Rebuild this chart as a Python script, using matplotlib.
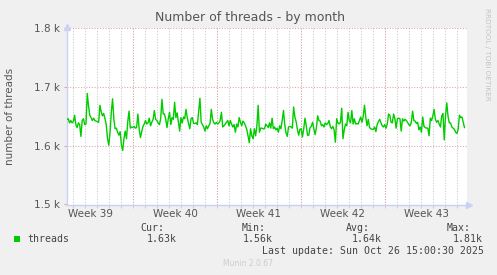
import matplotlib
matplotlib.use('Agg')
import matplotlib.pyplot as plt
import matplotlib.dates as mdates
from matplotlib.patches import Rectangle
import pandas as pd

threads = [
    1645, 1646, 1639, 1643, 1639, 1641, 1652, 1636, 1631, 1639, 1636, 1616, 1643, 1646, 1636, 1637,
    1689, 1668, 1652, 1648, 1643, 1647, 1643, 1642, 1641, 1640, 1669, 1658, 1651, 1655, 1646, 1636,
    1612, 1601, 1623, 1657, 1680, 1646, 1629, 1630, 1623, 1618, 1624, 1601, 1592, 1612, 1625, 1612,
    1641, 1659, 1630, 1632, 1631, 1633, 1630, 1631, 1654, 1629, 1614, 1624, 1633, 1637, 1643, 1637,
    1639, 1647, 1634, 1640, 1645, 1660, 1645, 1643, 1639, 1636, 1646, 1679, 1654, 1654, 1645, 1631,
    1646,
    1657, 1636, 1648, 1645, 1674, 1648, 1656, 1641, 1625, 1648, 1639, 1649, 1646, 1662, 1648, 1638,
    1629, 1646, 1648, 1638, 1638, 1639, 1636, 1659, 1681, 1640, 1636, 1632, 1625, 1634, 1629, 1634,
    1638, 1662, 1645, 1639, 1637, 1640, 1637, 1639, 1643, 1657, 1632, 1634, 1637, 1640, 1643, 1634,
    1643, 1637, 1632, 1636, 1623, 1637, 1632, 1648, 1640, 1634, 1642, 1639, 1634, 1628, 1617, 1605,
    1629, 1617, 1612, 1629, 1617, 1634, 1669, 1623, 1630, 1630, 1629, 1629, 1637, 1634, 1631,
    1639, 1630, 1647, 1629, 1632, 1627, 1630, 1623, 1634, 1629, 1643, 1660, 1636, 1622, 1616, 1632,
    1633, 1632, 1630, 1666, 1649, 1641, 1628, 1618, 1628, 1629, 1615, 1629, 1647, 1634, 1618, 1618,
    1631, 1633, 1640, 1629, 1619, 1630, 1651, 1643, 1642, 1634, 1636, 1632, 1639, 1636, 1638, 1643,
    1632, 1629, 1633, 1627, 1606, 1646, 1639, 1637, 1640, 1664, 1612, 1627, 1637, 1634, 1657, 1643,
    1639, 1660, 1637, 1646, 1637, 1638, 1637, 1643, 1649, 1640, 1650, 1669, 1649, 1634,
    1645, 1631, 1629, 1628, 1628, 1632, 1624, 1636, 1641, 1645, 1639, 1634, 1632, 1636, 1630, 1637,
    1654, 1652, 1640, 1639, 1654, 1646, 1630, 1646, 1647, 1646, 1625, 1646, 1642, 1645, 1643, 1640,
    1636, 1634, 1640, 1659, 1643, 1642, 1638, 1640, 1627, 1632, 1623, 1649, 1633, 1631, 1630, 1630,
    1617, 1647, 1643, 1651, 1662, 1645, 1640, 1643, 1637, 1632, 1651, 1655, 1610, 1651, 1673, 1650,
    1639, 1639, 1632, 1630, 1628, 1623, 1621, 1628, 1652, 1648, 1649, 1640, 1631,
]
start = '2025-09-23 12:00'
end = '2025-10-26 15:00'
view_end = '2025-10-26 20:00'
week_starts = ['2025-09-29', '2025-10-06', '2025-10-13', '2025-10-20']
week_mids = ['2025-09-25 12:00', '2025-10-02 12:00', '2025-10-09 12:00',
             '2025-10-16 12:00', '2025-10-23 12:00']
week_labels = ['Week 39', 'Week 40', 'Week 41', 'Week 42', 'Week 43']
yticks = [1500, 1600, 1700, 1800]
ylabels = ['1.5 k', '1.6 k', '1.7 k', '1.8 k']
stats = {'Cur:': '1.63k', 'Min:': '1.56k', 'Avg:': '1.64k', 'Max:': '1.81k'}

W, H = 497, 275
txt = '#555555'
axis_col = '#ccd0f4'
red_grid = '#e0a4a4'
gray_grid = '#c8c8c8'
dots = (0, (1, 1.6))

fig = plt.figure(figsize=(W / 100, H / 100), dpi=100, facecolor='#f0f0f0')
ax = fig.add_axes([67 / W, 1 - 204.5 / H, 400 / W, 176.2 / H])
ax.set_facecolor('white')

times = pd.date_range(start, end, periods=len(threads))
ax.set_xlim(pd.Timestamp(start), pd.Timestamp(view_end))
ax.set_ylim(1500, 1800)

# grid: daily gray dots, weekly red dots
days = pd.date_range('2025-09-24', view_end, freq='D')
for d in days:
    ax.axvline(d, color=gray_grid, lw=0.75, ls=dots, zorder=1)
for d in week_starts:
    ax.axvline(pd.Timestamp(d), color=red_grid, lw=0.75, ls=dots, zorder=1)
for y in yticks[1:]:
    ax.axhline(y, color=red_grid, lw=0.75, ls=dots, zorder=1, clip_on=False)

ax.plot(times, threads, color='#00cc00', lw=1, zorder=3)

ax.set_yticks(yticks)
ax.set_yticklabels(ylabels)
ax.set_xticks([pd.Timestamp(t) for t in week_mids])
ax.set_xticklabels(week_labels)
ax.tick_params(axis='y', length=2, color=red_grid, pad=3, labelsize=7.5, labelcolor=txt)
ax.tick_params(axis='x', length=0, pad=3, labelsize=7.5, labelcolor=txt)
ax.xaxis.set_minor_locator(mdates.DayLocator())
ax.tick_params(axis='x', which='minor', length=2, color=gray_grid)

for s in ['top', 'right']:
    ax.spines[s].set_visible(False)
for s in ['left', 'bottom']:
    ax.spines[s].set_color(axis_col)
    ax.spines[s].set_linewidth(1)
ax.plot([0], [1.01], marker='^', color=axis_col, ms=4, transform=ax.transAxes, clip_on=False)
ax.plot([1.005], [0], marker='>', color=axis_col, ms=4, transform=ax.transAxes, clip_on=False)

fig.text(250 / W, 1 - 17 / H, 'Number of threads - by month', ha='center', va='center',
         fontsize=9, color=txt)
fig.text(10 / W, 1 - 116 / H, 'number of threads', rotation=90, ha='center', va='center',
         fontsize=7.5, color=txt)
fig.text(487 / W, 1 - 54 / H, 'RRDTOOL / TOBI OETIKER', rotation=270, ha='center', va='center',
         fontsize=5.2, color='#c4c4c4')
fig.text(248 / W, 1 - 264 / H, 'Munin 2.0.67', ha='center', va='center',
         fontsize=5.5, color='#cccccc')

# legend block
mono = dict(family='DejaVu Sans Mono', fontsize=7.1, color='#444444', va='center')
fig.add_artist(Rectangle((14 / W, 1 - 242 / H), 6 / W, 6 / H, transform=fig.transFigure,
                         color='#00cc00', lw=0))
fig.text(27 / W, 1 - 239 / H, 'threads', **mono)
head_x = [140, 242, 346, 447]
val_x = [147, 243, 352, 453]
for (k, v), hx, vx in zip(stats.items(), head_x, val_x):
    fig.text(hx / W, 1 - 228 / H, k, **mono)
    fig.text(vx / W, 1 - 239 / H, v, **mono)
fig.text(262 / W, 1 - 251 / H, 'Last update: Sun Oct 26 15:00:30 2025', **mono)

fig.savefig('out.png', dpi=100, facecolor=fig.get_facecolor())
